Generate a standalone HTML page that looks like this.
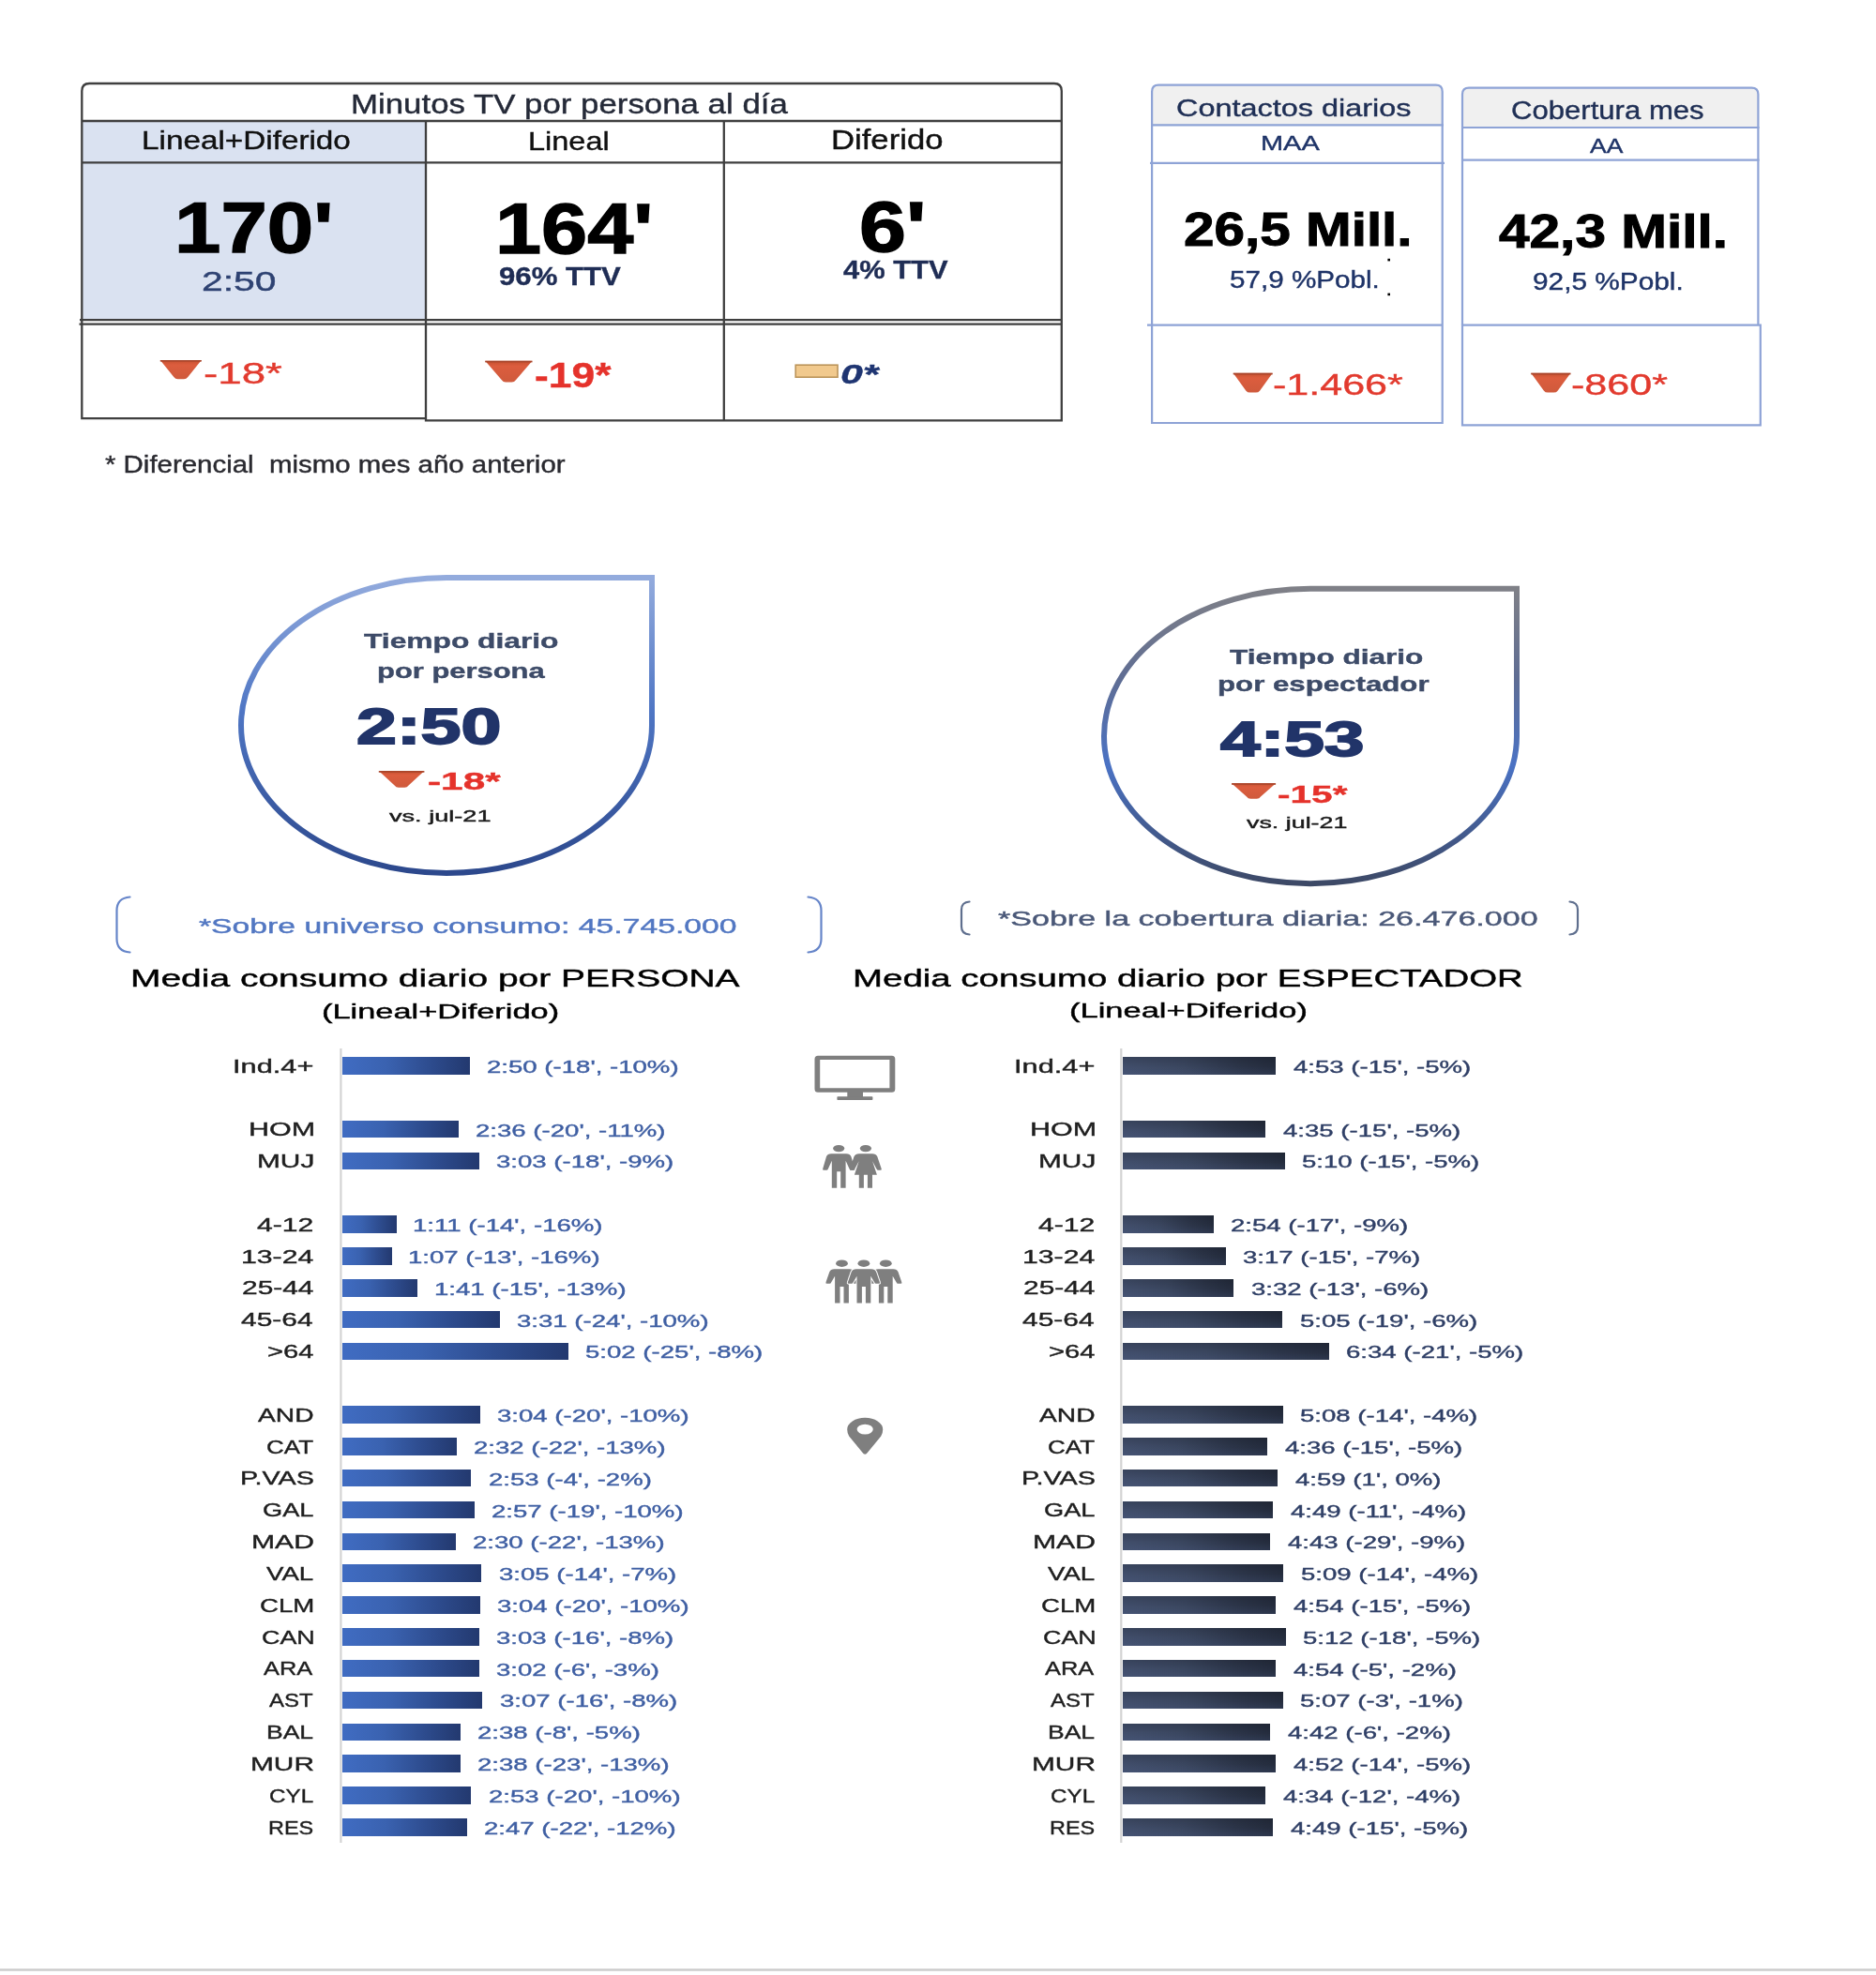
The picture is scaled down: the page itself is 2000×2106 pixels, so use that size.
<!DOCTYPE html>
<html lang="es">
<head>
<meta charset="utf-8">
<title>Minutos TV por persona al día</title>
<style>
html,body{margin:0;padding:0;background:#fff;}
body{width:2000px;height:2106px;position:relative;overflow:hidden;font-family:"Liberation Sans",sans-serif;}
#page{position:absolute;left:0;top:0;width:2000px;height:2106px;background:#fff;overflow:hidden;filter:blur(0.6px);}
svg.shapes{position:absolute;left:0;top:0;}
.t{position:absolute;white-space:pre;line-height:1;transform-origin:0 0;font-family:"Liberation Sans",sans-serif;-webkit-text-stroke:0.4px currentColor;}
.bar{position:absolute;}
.bl{background:linear-gradient(90deg,#406cc2 0%,#3a62b0 35%,#2d4b8d 70%,#23396f 100%);}
.br{background:linear-gradient(0deg,rgba(90,110,160,0.16) 0%,rgba(0,0,0,0) 45%,rgba(0,0,0,0.14) 100%),linear-gradient(90deg,#414e6b 0%,#3a465f 40%,#2c3549 75%,#242c3d 100%);}
.cell{position:absolute;background:#dae2f1;}
.hdr{position:absolute;background:#f0f0f0;}
</style>
</head>
<body>
<div id="page">
<!-- filled cells -->
<div class="cell" style="left:87px;top:129px;width:367px;height:213px"></div>
<div class="hdr" style="left:1228px;top:91px;width:310px;height:43px;border-radius:7px 7px 0 0"></div>
<div class="hdr" style="left:1559px;top:94px;width:316px;height:42px;border-radius:7px 7px 0 0"></div>
<div class="bar bl" style="left:365.0px;top:1127.2px;width:135.5px;height:18.5px"></div>
<div class="bar bl" style="left:365.0px;top:1194.8px;width:124.0px;height:18.5px"></div>
<div class="bar bl" style="left:365.0px;top:1228.6px;width:146.1px;height:18.5px"></div>
<div class="bar bl" style="left:365.0px;top:1296.3px;width:57.5px;height:18.5px"></div>
<div class="bar bl" style="left:365.0px;top:1330.1px;width:52.9px;height:18.5px"></div>
<div class="bar bl" style="left:365.0px;top:1364.0px;width:80.1px;height:18.5px"></div>
<div class="bar bl" style="left:365.0px;top:1397.8px;width:167.9px;height:18.5px"></div>
<div class="bar bl" style="left:365.0px;top:1431.6px;width:241.0px;height:18.5px"></div>
<div class="bar bl" style="left:365.0px;top:1499.3px;width:146.5px;height:18.5px"></div>
<div class="bar bl" style="left:365.0px;top:1533.1px;width:121.6px;height:18.5px"></div>
<div class="bar bl" style="left:365.0px;top:1566.9px;width:137.4px;height:18.5px"></div>
<div class="bar bl" style="left:365.0px;top:1600.8px;width:140.7px;height:18.5px"></div>
<div class="bar bl" style="left:365.0px;top:1634.6px;width:120.8px;height:18.5px"></div>
<div class="bar bl" style="left:365.0px;top:1668.4px;width:148.4px;height:18.5px"></div>
<div class="bar bl" style="left:365.0px;top:1702.3px;width:146.5px;height:18.5px"></div>
<div class="bar bl" style="left:365.0px;top:1736.1px;width:146.1px;height:18.5px"></div>
<div class="bar bl" style="left:365.0px;top:1769.9px;width:145.7px;height:18.5px"></div>
<div class="bar bl" style="left:365.0px;top:1803.8px;width:149.2px;height:18.5px"></div>
<div class="bar bl" style="left:365.0px;top:1837.6px;width:126.3px;height:18.5px"></div>
<div class="bar bl" style="left:365.0px;top:1871.4px;width:126.3px;height:18.5px"></div>
<div class="bar bl" style="left:365.0px;top:1905.2px;width:137.4px;height:18.5px"></div>
<div class="bar bl" style="left:365.0px;top:1939.1px;width:132.9px;height:18.5px"></div>
<div class="bar br" style="left:1196.8px;top:1127.2px;width:163.2px;height:18.5px"></div>
<div class="bar br" style="left:1196.8px;top:1194.8px;width:152.2px;height:18.5px"></div>
<div class="bar br" style="left:1196.8px;top:1228.6px;width:173.3px;height:18.5px"></div>
<div class="bar br" style="left:1196.8px;top:1296.3px;width:96.8px;height:18.5px"></div>
<div class="bar br" style="left:1196.8px;top:1330.1px;width:110.0px;height:18.5px"></div>
<div class="bar br" style="left:1196.8px;top:1364.0px;width:118.6px;height:18.5px"></div>
<div class="bar br" style="left:1196.8px;top:1397.8px;width:170.4px;height:18.5px"></div>
<div class="bar br" style="left:1196.8px;top:1431.6px;width:220.1px;height:18.5px"></div>
<div class="bar br" style="left:1196.8px;top:1499.3px;width:171.2px;height:18.5px"></div>
<div class="bar br" style="left:1196.8px;top:1533.1px;width:154.0px;height:18.5px"></div>
<div class="bar br" style="left:1196.8px;top:1566.9px;width:165.5px;height:18.5px"></div>
<div class="bar br" style="left:1196.8px;top:1600.8px;width:160.6px;height:18.5px"></div>
<div class="bar br" style="left:1196.8px;top:1634.6px;width:157.4px;height:18.5px"></div>
<div class="bar br" style="left:1196.8px;top:1668.4px;width:171.5px;height:18.5px"></div>
<div class="bar br" style="left:1196.8px;top:1702.3px;width:163.5px;height:18.5px"></div>
<div class="bar br" style="left:1196.8px;top:1736.1px;width:173.8px;height:18.5px"></div>
<div class="bar br" style="left:1196.8px;top:1769.9px;width:163.5px;height:18.5px"></div>
<div class="bar br" style="left:1196.8px;top:1803.8px;width:170.9px;height:18.5px"></div>
<div class="bar br" style="left:1196.8px;top:1837.6px;width:157.2px;height:18.5px"></div>
<div class="bar br" style="left:1196.8px;top:1871.4px;width:162.9px;height:18.5px"></div>
<div class="bar br" style="left:1196.8px;top:1905.2px;width:151.9px;height:18.5px"></div>
<div class="bar br" style="left:1196.8px;top:1939.1px;width:160.6px;height:18.5px"></div>
<svg class="shapes" width="2000" height="2106" viewBox="0 0 2000 2106">
<defs>
<linearGradient id="g1" x1="0" y1="0" x2="0" y2="1">
<stop offset="0" stop-color="#93abdd"/><stop offset="0.45" stop-color="#4f76c4"/><stop offset="1" stop-color="#2c488c"/>
</linearGradient>
<linearGradient id="g2" x1="0" y1="0" x2="0" y2="1">
<stop offset="0" stop-color="#7f8087"/><stop offset="0.3" stop-color="#5f6d93"/><stop offset="0.6" stop-color="#4a72c4"/><stop offset="1" stop-color="#3d4966"/>
</linearGradient>
<linearGradient id="ga" x1="0" y1="0" x2="0" y2="1">
<stop offset="0" stop-color="#c4502f"/><stop offset="0.25" stop-color="#dc5d3e"/><stop offset="1" stop-color="#cf5a3c"/>
</linearGradient>
</defs>

<!-- bottom rule -->
<rect x="-5" y="2099.3" width="2010" height="2.4" fill="#cbcbcb"/>

<!-- ===== Table 1 borders ===== -->
<g fill="none" stroke="#3f3f3f" stroke-width="2.3">
<path d="M87.3 129 V97 Q87.3 89 95.3 89 H1123.8 Q1131.8 89 1131.8 97 V129"/>
<path d="M87.3 129 H1131.8"/>
<path d="M87.3 173.3 H1133"/>
<path d="M87.3 129 V446.2 H454"/>
<path d="M454 129 V448.4 H1131.8 V129"/>
<path d="M771.8 129 V448.4"/>
<path d="M85 341.2 H1131.8"/>
<path d="M84.5 345.6 H1131.8"/>
</g>

<!-- ===== Right boxes ===== -->
<g fill="none" stroke="#8ea3d6" stroke-width="2.2">
<path d="M1228.1 451 V97.7 Q1228.1 90.7 1235.1 90.7 H1530.7 Q1537.7 90.7 1537.7 97.7 V451 Z"/>
<path d="M1228.1 133.4 H1539"/>
<path d="M1226 173.8 H1540"/>
<path d="M1223 346.7 H1538"/>
<path d="M1559 346.7 V100.6 Q1559 93.6 1566 93.6 H1867.4 Q1874.4 93.6 1874.4 100.6 V346.7"/>
<path d="M1559 136 H1875.5"/>
<path d="M1559 170.6 H1875.5"/>
<path d="M1559 346.7 V453.4 H1876.8 V346.7 Z"/>
</g>
<!-- stray dots -->
<rect x="1479.4" y="275.8" width="2.6" height="2.6" fill="#000"/>
<rect x="1479.4" y="312.6" width="2.6" height="2.6" fill="#000"/>

<path d="M170.8 384.0 H214.8 L200.3 402.0 Q198.7 404.2 196.0 404.2 H189.6 Q186.9 404.2 185.3 402.0 Z" fill="url(#ga)"/><rect x="170.8" y="384.0" width="44.0" height="1.6" fill="#a8452b"/>
<path d="M517.2 384.8 H567.5 L549.9 405.2 Q548.3 407.4 545.6 407.4 H539.1 Q536.4 407.4 534.9 405.2 Z" fill="url(#ga)"/><rect x="517.2" y="384.8" width="50.3" height="1.6" fill="#a8452b"/>
<path d="M1314.7 397.8 H1356.7 L1343.2 416.4 Q1341.6 418.6 1338.9 418.6 H1332.5 Q1329.8 418.6 1328.2 416.4 Z" fill="url(#ga)"/><rect x="1314.7" y="397.8" width="42.0" height="1.6" fill="#a8452b"/>
<path d="M1632.2 397.8 H1674.5 L1660.8 416.4 Q1659.2 418.6 1656.5 418.6 H1650.1 Q1647.4 418.6 1645.8 416.4 Z" fill="url(#ga)"/><rect x="1632.2" y="397.8" width="42.3" height="1.6" fill="#a8452b"/>
<path d="M403.8 822.1 H452.4 L435.6 837.6 Q434.0 839.8 431.3 839.8 H424.9 Q422.2 839.8 420.6 837.6 Z" fill="url(#ga)"/><rect x="403.8" y="822.1" width="48.6" height="1.6" fill="#a8452b"/>
<path d="M1313.0 835.2 H1360.1 L1344.0 849.6 Q1342.5 851.8 1339.8 851.8 H1333.3 Q1330.6 851.8 1329.0 849.6 Z" fill="url(#ga)"/><rect x="1313.0" y="835.2" width="47.1" height="1.6" fill="#a8452b"/>

<!-- yellow bar -->
<rect x="848.2" y="389.2" width="44.8" height="13" fill="#f1c98d" stroke="#bb9459" stroke-width="1.6"/>

<!-- ===== Teardrops ===== -->
<path d="M476 616 H695 V773.5 A219 157.5 0 0 1 476 931 A219 157.5 0 0 1 257 773.5 A219 157.5 0 0 1 476 616 Z" fill="none" stroke="url(#g1)" stroke-width="6" stroke-linejoin="miter"/>
<path d="M1397 627.8 H1617 V785 A220 157.2 0 0 1 1397 942.2 A220 157.2 0 0 1 1177 785 A220 157.2 0 0 1 1397 627.8 Z" fill="none" stroke="url(#g2)" stroke-width="6" stroke-linejoin="miter"/>

<!-- ===== Brackets ===== -->
<g fill="none" stroke-width="2.2" stroke-linecap="round">
<path d="M138.5 956.5 Q124.5 957.5 124.5 971 V1001 Q124.5 1014.5 138.5 1015.5" stroke="#6685c9"/>
<path d="M861.5 956.5 Q875.5 957.5 875.5 971 V1001 Q875.5 1014.5 861.5 1015.5" stroke="#6685c9"/>
<path d="M1033.5 961.5 Q1025 962 1025 970 V988 Q1025 996 1033.5 996.5" stroke="#5f6f8e"/>
<path d="M1673.5 961.5 Q1682 962 1682 970 V988 Q1682 996 1673.5 996.5" stroke="#5f6f8e"/>
</g>

<!-- ===== Axis lines ===== -->
<rect x="362.3" y="1118" width="2.2" height="847" fill="#d4d4d4"/>
<rect x="1194.2" y="1118" width="2.2" height="847" fill="#d4d4d4"/>

<g fill="#7f7f7f">
<path fill-rule="evenodd" d="M872 1125.7 H950.8 Q954.3 1125.7 954.3 1129.2 V1161.2 Q954.3 1164.7 950.8 1164.7 H872 Q868.5 1164.7 868.5 1161.2 V1129.2 Q868.5 1125.7 872 1125.7 Z M874.2 1129.9 V1160.3 H948.4 V1129.9 Z"/>
<rect x="903.3" y="1164" width="16.7" height="6"/>
<rect x="892.4" y="1169.3" width="38" height="3.7" rx="0.8"/>
<ellipse cx="894.2" cy="1224.6" rx="6.1" ry="3.6" /><path d="M886.2 1230.3 Q882.2 1230.3 881.0 1233.3 L877.2 1246.3 Q876.6 1247.8 878.4 1247.8 L881.2 1247.8 Q882.4 1247.8 882.8 1246.6 L886.8 1237.8 V1266.8 H892.2 V1249.2 H896.2 V1266.8 H901.6 V1237.8 L905.6 1246.6 Q906.0 1247.8 907.2 1247.8 L910.0 1247.8 Q911.8 1247.8 911.2 1246.3 L907.4 1233.3 Q906.2 1230.3 902.2 1230.3 Z" />
<ellipse cx="922.9" cy="1224.6" rx="6.1" ry="3.6"/><path d="M915.9 1230.3 Q911.9 1230.3 910.5 1233.3 L906.1 1246.3 Q905.5 1247.8 907.3 1247.8 L909.7 1247.8 Q910.9 1247.8 911.3 1246.6 L915.7 1238.3 L910.9 1252.8 H915.8 V1266.8 H920.9 V1252.8 H924.9 V1266.8 H930.0 V1252.8 H934.9 L930.1 1238.3 L934.5 1246.6 Q934.9 1247.8 936.1 1247.8 L938.5 1247.8 Q940.3 1247.8 939.7 1246.3 L935.3 1233.3 Q933.9 1230.3 929.9 1230.3 Z"/>
<ellipse cx="897.5" cy="1347.2" rx="6.4" ry="3.7" /><path d="M889.5 1353.2 Q885.5 1353.2 884.3 1356.2 L880.5 1367.3 Q879.9 1368.8 881.7 1368.8 L884.5 1368.8 Q885.7 1368.8 886.1 1367.6 L890.1 1360.7 V1389.4 H895.5 V1372.0 H899.5 V1389.4 H904.9 V1360.7 L908.9 1367.6 Q909.3 1368.8 910.5 1368.8 L913.3 1368.8 Q915.1 1368.8 914.5 1367.3 L910.7 1356.2 Q909.5 1353.2 905.5 1353.2 Z" />
<ellipse cx="944.3" cy="1347.2" rx="6.4" ry="3.7" /><path d="M936.3 1353.2 Q932.3 1353.2 931.1 1356.2 L927.3 1367.3 Q926.7 1368.8 928.5 1368.8 L931.3 1368.8 Q932.5 1368.8 932.9 1367.6 L936.9 1360.7 V1389.4 H942.3 V1372.0 H946.3 V1389.4 H951.7 V1360.7 L955.7 1367.6 Q956.1 1368.8 957.3 1368.8 L960.1 1368.8 Q961.9 1368.8 961.3 1367.3 L957.5 1356.2 Q956.3 1353.2 952.3 1353.2 Z" />
<ellipse cx="920.9" cy="1347.2" rx="6.4" ry="3.7" stroke="#fff" stroke-width="2" paint-order="stroke"/><path d="M912.9 1353.2 Q908.9 1353.2 907.7 1356.2 L903.9 1367.3 Q903.3 1368.8 905.1 1368.8 L907.9 1368.8 Q909.1 1368.8 909.5 1367.6 L913.5 1360.7 V1389.4 H918.9 V1372.0 H922.9 V1389.4 H928.3 V1360.7 L932.3 1367.6 Q932.7 1368.8 933.9 1368.8 L936.7 1368.8 Q938.5 1368.8 937.9 1367.3 L934.1 1356.2 Q932.9 1353.2 928.9 1353.2 Z" stroke="#fff" stroke-width="2" paint-order="stroke"/>
<path fill-rule="evenodd" d="M922.2 1550.8 Q920.6 1550.6 919.6 1549 L905.2 1531.5 Q903.2 1528.5 903.2 1524.3 A19 12.5 0 0 1 941.2 1524.3 Q941.2 1528.5 939.2 1531.5 L924.8 1549 Q923.8 1550.6 922.2 1550.8 Z M922.2 1518.7 A8.6 5.4 0 0 0 922.2 1529.5 A8.6 5.4 0 0 0 922.2 1518.7 Z"/>
</g>
</svg>

<span class="t" style="left:373.61px;top:97.00px;font-size:28.92px;color:#252a38;transform:scaleX(1.2045);">Minutos TV por persona al día</span>
<span class="t" style="left:150.94px;top:135.00px;font-size:28.20px;color:#111;transform:scaleX(1.1803);">Lineal+Diferido</span>
<span class="t" style="left:563.20px;top:136.00px;font-size:28.49px;color:#111;transform:scaleX(1.1408);">Lineal</span>
<span class="t" style="left:886.13px;top:135.00px;font-size:29.07px;color:#111;transform:scaleX(1.1929);">Diferido</span>
<span class="t" style="left:185.57px;top:205.00px;font-size:76.02px;color:#000;transform:scaleX(1.1682);font-weight:700;-webkit-text-stroke-width:1.40px;">170'</span>
<span class="t" style="left:215.46px;top:286.00px;font-size:29.07px;color:#2e4272;transform:scaleX(1.4056);">2:50</span>
<span class="t" style="left:527.80px;top:206.00px;font-size:76.45px;color:#000;transform:scaleX(1.1550);font-weight:700;-webkit-text-stroke-width:1.40px;">164'</span>
<span class="t" style="left:532.11px;top:280.00px;font-size:28.20px;color:#1f2d55;transform:scaleX(1.1048);font-weight:700;">96% TTV</span>
<span class="t" style="left:915.66px;top:205.00px;font-size:75.58px;color:#000;transform:scaleX(1.1880);font-weight:700;-webkit-text-stroke-width:1.40px;">6'</span>
<span class="t" style="left:899.34px;top:273.00px;font-size:28.49px;color:#1f2d55;transform:scaleX(1.0834);font-weight:700;">4% TTV</span>
<span class="t" style="left:217.44px;top:383.00px;font-size:31.40px;color:#e23a2e;transform:scaleX(1.4571);">-18*</span>
<span class="t" style="left:570.02px;top:383.00px;font-size:36.34px;color:#e5322b;transform:scaleX(1.2219);font-weight:700;">-19*</span>
<span class="t" style="left:895.79px;top:383.00px;font-size:30.38px;color:#1f3572;transform:scaleX(1.4108);font-weight:700;font-style:italic;">0*</span>
<span class="t" style="left:112.36px;top:484.00px;font-size:24.85px;color:#2a2a30;transform:scaleX(1.1843);">* Diferencial  mismo mes año anterior</span>
<span class="t" style="left:1253.98px;top:102.00px;font-size:26.45px;color:#1f2f55;transform:scaleX(1.2261);">Contactos diarios</span>
<span class="t" style="left:1343.98px;top:142.00px;font-size:22.09px;color:#1f3468;transform:scaleX(1.3112);">MAA</span>
<span class="t" style="left:1261.85px;top:220.00px;font-size:49.42px;color:#000;transform:scaleX(1.1828);font-weight:700;-webkit-text-stroke-width:1.00px;">26,5 Mill.</span>
<span class="t" style="left:1311.11px;top:285.00px;font-size:26.60px;color:#1f3468;transform:scaleX(1.1143);">57,9 %Pobl.</span>
<span class="t" style="left:1357.16px;top:396.00px;font-size:30.81px;color:#e23a2e;transform:scaleX(1.3976);">-1.466*</span>
<span class="t" style="left:1610.64px;top:104.00px;font-size:27.62px;color:#1f2f55;transform:scaleX(1.1262);">Cobertura mes</span>
<span class="t" style="left:1694.90px;top:146.00px;font-size:21.51px;color:#1f3468;transform:scaleX(1.2303);">AA</span>
<span class="t" style="left:1597.62px;top:222.00px;font-size:49.42px;color:#000;transform:scaleX(1.1849);font-weight:700;-webkit-text-stroke-width:1.00px;">42,3 Mill.</span>
<span class="t" style="left:1633.66px;top:287.00px;font-size:26.60px;color:#1f3468;transform:scaleX(1.1211);">92,5 %Pobl.</span>
<span class="t" style="left:1674.96px;top:396.00px;font-size:30.81px;color:#e23a2e;transform:scaleX(1.3984);">-860*</span>
<span class="t" style="left:388.48px;top:673.00px;font-size:22.24px;color:#3d4b68;transform:scaleX(1.4273);font-weight:700;">Tiempo diario</span>
<span class="t" style="left:402.19px;top:705.00px;font-size:22.24px;color:#3d4b68;transform:scaleX(1.3903);font-weight:700;">por persona</span>
<span class="t" style="left:379.90px;top:748.00px;font-size:53.20px;color:#213469;transform:scaleX(1.4501);font-weight:700;-webkit-text-stroke-width:1.80px;">2:50</span>
<span class="t" style="left:455.71px;top:822.00px;font-size:24.85px;color:#e5322b;transform:scaleX(1.7035);font-weight:700;">-18*</span>
<span class="t" style="left:415.06px;top:863.00px;font-size:15.70px;color:#1a1a1a;transform:scaleX(1.7289);">vs. jul-21</span>
<span class="t" style="left:1310.58px;top:690.00px;font-size:22.24px;color:#3d4b68;transform:scaleX(1.4197);font-weight:700;">Tiempo diario</span>
<span class="t" style="left:1297.87px;top:719.00px;font-size:22.24px;color:#3d4b68;transform:scaleX(1.4041);font-weight:700;">por espectador</span>
<span class="t" style="left:1300.65px;top:762.00px;font-size:52.62px;color:#213469;transform:scaleX(1.4581);font-weight:700;-webkit-text-stroke-width:1.80px;">4:53</span>
<span class="t" style="left:1362.18px;top:835.00px;font-size:25.73px;color:#e5322b;transform:scaleX(1.5786);font-weight:700;">-15*</span>
<span class="t" style="left:1329.17px;top:869.00px;font-size:16.28px;color:#1a1a1a;transform:scaleX(1.6500);">vs. jul-21</span>
<span class="t" style="left:211.59px;top:978.00px;font-size:21.51px;color:#5277c2;transform:scaleX(1.5681);">*Sobre universo consumo: 45.745.000</span>
<span class="t" style="left:1063.99px;top:969.00px;font-size:21.66px;color:#4a5878;transform:scaleX(1.5727);">*Sobre la cobertura diaria: 26.476.000</span>
<span class="t" style="left:138.88px;top:1030.00px;font-size:26.16px;color:#000;transform:scaleX(1.4895);">Media consumo diario por PERSONA</span>
<span class="t" style="left:342.84px;top:1069.00px;font-size:21.37px;color:#000;transform:scaleX(1.6090);">(Lineal+Diferido)</span>
<span class="t" style="left:909.32px;top:1030.00px;font-size:26.16px;color:#000;transform:scaleX(1.4693);">Media consumo diario por ESPECTADOR</span>
<span class="t" style="left:1139.63px;top:1068.00px;font-size:21.37px;color:#000;transform:scaleX(1.6142);">(Lineal+Diferido)</span>
<span class="t" style="left:248.23px;top:1127.00px;font-size:20.93px;color:#1f1f1f;transform:scaleX(1.4709);">Ind.4+</span>
<span class="t" style="left:518.67px;top:1128.00px;font-size:19.04px;color:#3f5fa3;transform:scaleX(1.4494);">2:50 (-18', -10%)</span>
<span class="t" style="left:264.56px;top:1194.00px;font-size:20.93px;color:#1f1f1f;transform:scaleX(1.4576);">HOM</span>
<span class="t" style="left:507.09px;top:1196.00px;font-size:19.04px;color:#3f5fa3;transform:scaleX(1.4494);">2:36 (-20', -11%)</span>
<span class="t" style="left:274.11px;top:1228.00px;font-size:20.93px;color:#1f1f1f;transform:scaleX(1.4258);">MUJ</span>
<span class="t" style="left:529.47px;top:1229.00px;font-size:19.04px;color:#3f5fa3;transform:scaleX(1.4494);">3:03 (-18', -9%)</span>
<span class="t" style="left:274.40px;top:1296.00px;font-size:20.93px;color:#1f1f1f;transform:scaleX(1.4408);">4-12</span>
<span class="t" style="left:439.97px;top:1297.00px;font-size:19.04px;color:#3f5fa3;transform:scaleX(1.4494);">1:11 (-14', -16%)</span>
<span class="t" style="left:256.73px;top:1330.00px;font-size:20.93px;color:#1f1f1f;transform:scaleX(1.4440);">13-24</span>
<span class="t" style="left:435.38px;top:1331.00px;font-size:19.04px;color:#3f5fa3;transform:scaleX(1.4494);">1:07 (-13', -16%)</span>
<span class="t" style="left:257.50px;top:1363.00px;font-size:20.93px;color:#1f1f1f;transform:scaleX(1.4295);">25-44</span>
<span class="t" style="left:462.58px;top:1365.00px;font-size:19.04px;color:#3f5fa3;transform:scaleX(1.4494);">1:41 (-15', -13%)</span>
<span class="t" style="left:257.40px;top:1397.00px;font-size:20.93px;color:#1f1f1f;transform:scaleX(1.4314);">45-64</span>
<span class="t" style="left:551.28px;top:1399.00px;font-size:19.04px;color:#3f5fa3;transform:scaleX(1.4494);">3:31 (-24', -10%)</span>
<span class="t" style="left:284.54px;top:1431.00px;font-size:20.93px;color:#1f1f1f;transform:scaleX(1.3920);">&gt;64</span>
<span class="t" style="left:624.44px;top:1432.00px;font-size:19.04px;color:#3f5fa3;transform:scaleX(1.4494);">5:02 (-25', -8%)</span>
<span class="t" style="left:275.00px;top:1499.00px;font-size:20.93px;color:#1f1f1f;transform:scaleX(1.3466);">AND</span>
<span class="t" style="left:529.87px;top:1500.00px;font-size:19.04px;color:#3f5fa3;transform:scaleX(1.4494);">3:04 (-20', -10%)</span>
<span class="t" style="left:283.70px;top:1533.00px;font-size:20.93px;color:#1f1f1f;transform:scaleX(1.2414);">CAT</span>
<span class="t" style="left:504.69px;top:1534.00px;font-size:19.04px;color:#3f5fa3;transform:scaleX(1.4494);">2:32 (-22', -13%)</span>
<span class="t" style="left:255.70px;top:1566.00px;font-size:20.93px;color:#1f1f1f;transform:scaleX(1.3740);">P.VAS</span>
<span class="t" style="left:520.51px;top:1568.00px;font-size:19.04px;color:#3f5fa3;transform:scaleX(1.4494);">2:53 (-4', -2%)</span>
<span class="t" style="left:279.64px;top:1600.00px;font-size:20.93px;color:#1f1f1f;transform:scaleX(1.2990);">GAL</span>
<span class="t" style="left:523.80px;top:1602.00px;font-size:19.04px;color:#3f5fa3;transform:scaleX(1.4494);">2:57 (-19', -10%)</span>
<span class="t" style="left:267.59px;top:1634.00px;font-size:20.93px;color:#1f1f1f;transform:scaleX(1.4413);">MAD</span>
<span class="t" style="left:503.90px;top:1635.00px;font-size:19.04px;color:#3f5fa3;transform:scaleX(1.4494);">2:30 (-22', -13%)</span>
<span class="t" style="left:283.86px;top:1668.00px;font-size:20.93px;color:#1f1f1f;transform:scaleX(1.3206);">VAL</span>
<span class="t" style="left:531.77px;top:1669.00px;font-size:19.04px;color:#3f5fa3;transform:scaleX(1.4494);">3:05 (-14', -7%)</span>
<span class="t" style="left:277.12px;top:1702.00px;font-size:20.93px;color:#1f1f1f;transform:scaleX(1.3199);">CLM</span>
<span class="t" style="left:529.87px;top:1703.00px;font-size:19.04px;color:#3f5fa3;transform:scaleX(1.4494);">3:04 (-20', -10%)</span>
<span class="t" style="left:278.66px;top:1736.00px;font-size:20.93px;color:#1f1f1f;transform:scaleX(1.2837);">CAN</span>
<span class="t" style="left:529.47px;top:1737.00px;font-size:19.04px;color:#3f5fa3;transform:scaleX(1.4494);">3:03 (-16', -8%)</span>
<span class="t" style="left:281.00px;top:1769.00px;font-size:20.93px;color:#1f1f1f;transform:scaleX(1.2136);">ARA</span>
<span class="t" style="left:529.07px;top:1771.00px;font-size:19.04px;color:#3f5fa3;transform:scaleX(1.4494);">3:02 (-6', -3%)</span>
<span class="t" style="left:287.00px;top:1803.00px;font-size:20.93px;color:#1f1f1f;transform:scaleX(1.1467);">AST</span>
<span class="t" style="left:532.57px;top:1804.00px;font-size:19.04px;color:#3f5fa3;transform:scaleX(1.4494);">3:07 (-16', -8%)</span>
<span class="t" style="left:283.88px;top:1837.00px;font-size:20.93px;color:#1f1f1f;transform:scaleX(1.2669);">BAL</span>
<span class="t" style="left:509.43px;top:1838.00px;font-size:19.04px;color:#3f5fa3;transform:scaleX(1.4494);">2:38 (-8', -5%)</span>
<span class="t" style="left:266.61px;top:1871.00px;font-size:20.93px;color:#1f1f1f;transform:scaleX(1.4267);">MUR</span>
<span class="t" style="left:509.43px;top:1872.00px;font-size:19.04px;color:#3f5fa3;transform:scaleX(1.4494);">2:38 (-23', -13%)</span>
<span class="t" style="left:286.79px;top:1905.00px;font-size:20.93px;color:#1f1f1f;transform:scaleX(1.1579);">CYL</span>
<span class="t" style="left:520.51px;top:1906.00px;font-size:19.04px;color:#3f5fa3;transform:scaleX(1.4494);">2:53 (-20', -10%)</span>
<span class="t" style="left:286.13px;top:1939.00px;font-size:20.93px;color:#1f1f1f;transform:scaleX(1.1189);">RES</span>
<span class="t" style="left:516.02px;top:1940.00px;font-size:19.04px;color:#3f5fa3;transform:scaleX(1.4494);">2:47 (-22', -12%)</span>
<span class="t" style="left:1081.23px;top:1127.00px;font-size:20.93px;color:#1f1f1f;transform:scaleX(1.4709);">Ind.4+</span>
<span class="t" style="left:1378.92px;top:1128.00px;font-size:19.04px;color:#2f3f66;transform:scaleX(1.4494);">4:53 (-15', -5%)</span>
<span class="t" style="left:1097.56px;top:1194.00px;font-size:20.93px;color:#1f1f1f;transform:scaleX(1.4576);">HOM</span>
<span class="t" style="left:1367.95px;top:1196.00px;font-size:19.04px;color:#2f3f66;transform:scaleX(1.4494);">4:35 (-15', -5%)</span>
<span class="t" style="left:1107.11px;top:1228.00px;font-size:20.93px;color:#1f1f1f;transform:scaleX(1.4258);">MUJ</span>
<span class="t" style="left:1388.46px;top:1229.00px;font-size:19.04px;color:#2f3f66;transform:scaleX(1.4494);">5:10 (-15', -5%)</span>
<span class="t" style="left:1107.40px;top:1296.00px;font-size:20.93px;color:#1f1f1f;transform:scaleX(1.4408);">4-12</span>
<span class="t" style="left:1311.67px;top:1297.00px;font-size:19.04px;color:#2f3f66;transform:scaleX(1.4494);">2:54 (-17', -9%)</span>
<span class="t" style="left:1089.73px;top:1330.00px;font-size:20.93px;color:#1f1f1f;transform:scaleX(1.4440);">13-24</span>
<span class="t" style="left:1325.21px;top:1331.00px;font-size:19.04px;color:#2f3f66;transform:scaleX(1.4494);">3:17 (-15', -7%)</span>
<span class="t" style="left:1090.50px;top:1363.00px;font-size:20.93px;color:#1f1f1f;transform:scaleX(1.4295);">25-44</span>
<span class="t" style="left:1333.84px;top:1365.00px;font-size:19.04px;color:#2f3f66;transform:scaleX(1.4494);">3:32 (-13', -6%)</span>
<span class="t" style="left:1090.40px;top:1397.00px;font-size:20.93px;color:#1f1f1f;transform:scaleX(1.4314);">45-64</span>
<span class="t" style="left:1385.56px;top:1399.00px;font-size:19.04px;color:#2f3f66;transform:scaleX(1.4494);">5:05 (-19', -6%)</span>
<span class="t" style="left:1117.54px;top:1431.00px;font-size:20.93px;color:#1f1f1f;transform:scaleX(1.3920);">&gt;64</span>
<span class="t" style="left:1435.05px;top:1432.00px;font-size:19.04px;color:#2f3f66;transform:scaleX(1.4494);">6:34 (-21', -5%)</span>
<span class="t" style="left:1108.00px;top:1499.00px;font-size:20.93px;color:#1f1f1f;transform:scaleX(1.3466);">AND</span>
<span class="t" style="left:1386.40px;top:1500.00px;font-size:19.04px;color:#2f3f66;transform:scaleX(1.4494);">5:08 (-14', -4%)</span>
<span class="t" style="left:1116.70px;top:1533.00px;font-size:20.93px;color:#1f1f1f;transform:scaleX(1.2414);">CAT</span>
<span class="t" style="left:1369.73px;top:1534.00px;font-size:19.04px;color:#2f3f66;transform:scaleX(1.4494);">4:36 (-15', -5%)</span>
<span class="t" style="left:1088.70px;top:1566.00px;font-size:20.93px;color:#1f1f1f;transform:scaleX(1.3740);">P.VAS</span>
<span class="t" style="left:1381.24px;top:1568.00px;font-size:19.04px;color:#2f3f66;transform:scaleX(1.4494);">4:59 (1', 0%)</span>
<span class="t" style="left:1112.64px;top:1600.00px;font-size:20.93px;color:#1f1f1f;transform:scaleX(1.2990);">GAL</span>
<span class="t" style="left:1376.31px;top:1602.00px;font-size:19.04px;color:#2f3f66;transform:scaleX(1.4494);">4:49 (-11', -4%)</span>
<span class="t" style="left:1100.59px;top:1634.00px;font-size:20.93px;color:#1f1f1f;transform:scaleX(1.4413);">MAD</span>
<span class="t" style="left:1373.18px;top:1635.00px;font-size:19.04px;color:#2f3f66;transform:scaleX(1.4494);">4:43 (-29', -9%)</span>
<span class="t" style="left:1116.86px;top:1668.00px;font-size:20.93px;color:#1f1f1f;transform:scaleX(1.3206);">VAL</span>
<span class="t" style="left:1386.68px;top:1669.00px;font-size:19.04px;color:#2f3f66;transform:scaleX(1.4494);">5:09 (-14', -4%)</span>
<span class="t" style="left:1110.12px;top:1702.00px;font-size:20.93px;color:#1f1f1f;transform:scaleX(1.3199);">CLM</span>
<span class="t" style="left:1379.20px;top:1703.00px;font-size:19.04px;color:#2f3f66;transform:scaleX(1.4494);">4:54 (-15', -5%)</span>
<span class="t" style="left:1111.66px;top:1736.00px;font-size:20.93px;color:#1f1f1f;transform:scaleX(1.2837);">CAN</span>
<span class="t" style="left:1389.02px;top:1737.00px;font-size:19.04px;color:#2f3f66;transform:scaleX(1.4494);">5:12 (-18', -5%)</span>
<span class="t" style="left:1114.00px;top:1769.00px;font-size:20.93px;color:#1f1f1f;transform:scaleX(1.2136);">ARA</span>
<span class="t" style="left:1379.20px;top:1771.00px;font-size:19.04px;color:#2f3f66;transform:scaleX(1.4494);">4:54 (-5', -2%)</span>
<span class="t" style="left:1120.00px;top:1803.00px;font-size:20.93px;color:#1f1f1f;transform:scaleX(1.1467);">AST</span>
<span class="t" style="left:1386.12px;top:1804.00px;font-size:19.04px;color:#2f3f66;transform:scaleX(1.4494);">5:07 (-3', -1%)</span>
<span class="t" style="left:1116.88px;top:1837.00px;font-size:20.93px;color:#1f1f1f;transform:scaleX(1.2669);">BAL</span>
<span class="t" style="left:1372.91px;top:1838.00px;font-size:19.04px;color:#2f3f66;transform:scaleX(1.4494);">4:42 (-6', -2%)</span>
<span class="t" style="left:1099.61px;top:1871.00px;font-size:20.93px;color:#1f1f1f;transform:scaleX(1.4267);">MUR</span>
<span class="t" style="left:1378.64px;top:1872.00px;font-size:19.04px;color:#2f3f66;transform:scaleX(1.4494);">4:52 (-14', -5%)</span>
<span class="t" style="left:1119.79px;top:1905.00px;font-size:20.93px;color:#1f1f1f;transform:scaleX(1.1579);">CYL</span>
<span class="t" style="left:1367.68px;top:1906.00px;font-size:19.04px;color:#2f3f66;transform:scaleX(1.4494);">4:34 (-12', -4%)</span>
<span class="t" style="left:1119.13px;top:1939.00px;font-size:20.93px;color:#1f1f1f;transform:scaleX(1.1189);">RES</span>
<span class="t" style="left:1376.31px;top:1940.00px;font-size:19.04px;color:#2f3f66;transform:scaleX(1.4494);">4:49 (-15', -5%)</span>
</div>
</body>
</html>
